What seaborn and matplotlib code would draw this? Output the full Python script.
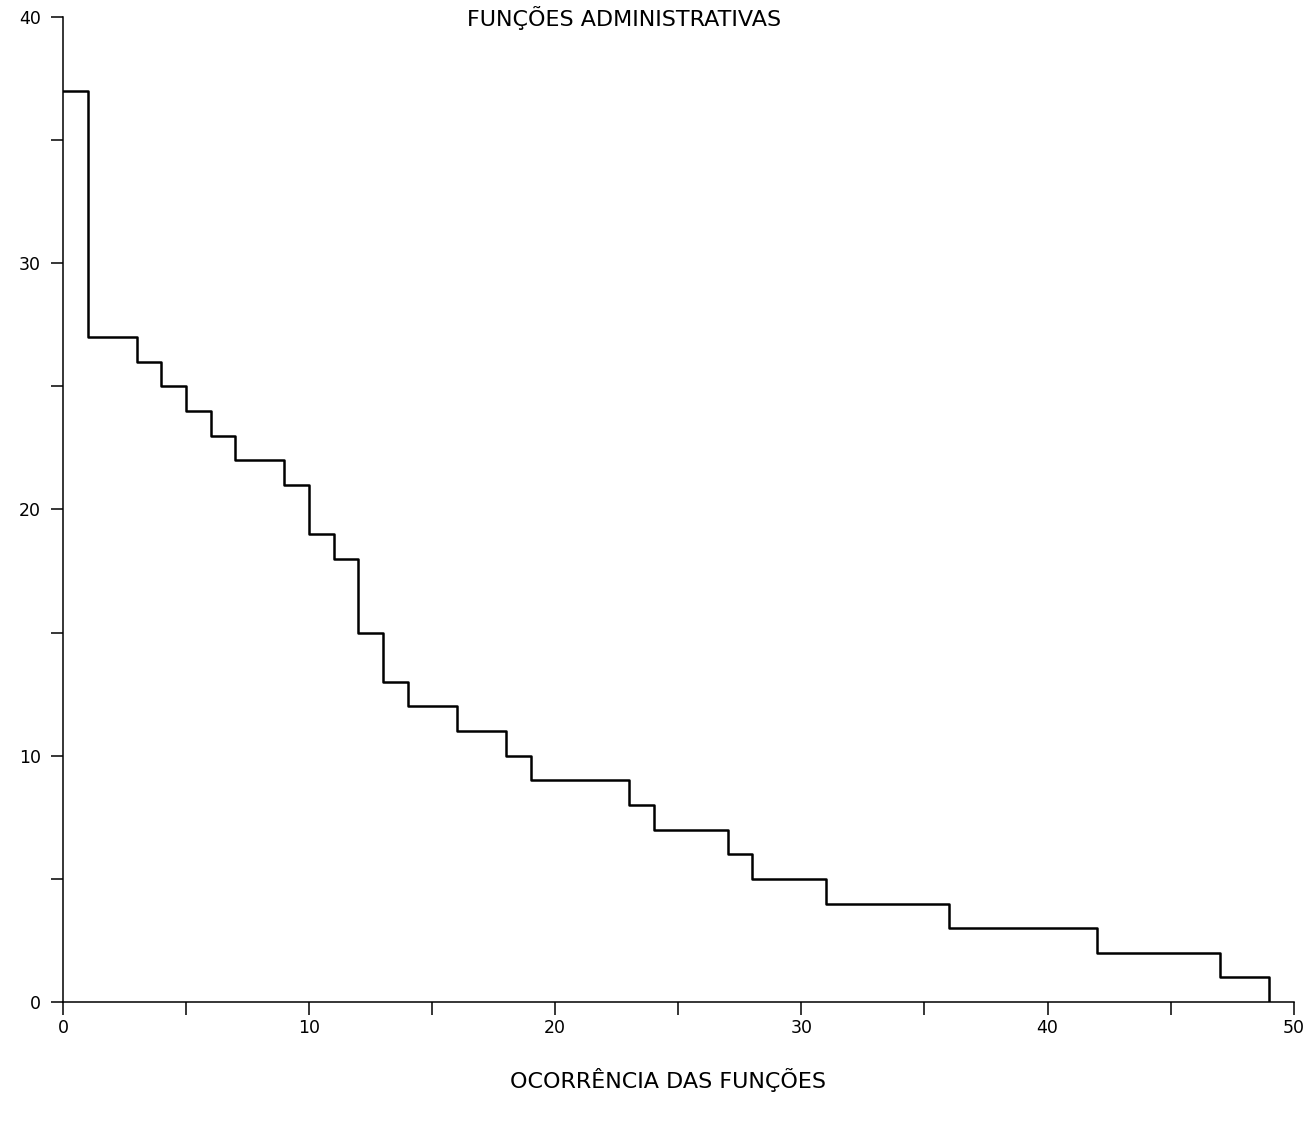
import matplotlib
matplotlib.use('Agg')
import matplotlib.pyplot as plt
import seaborn as sns
import pandas as pd

# step edges (x) and heights (y)
ocorrencia = [0, 1, 3, 4, 5, 6, 7, 9, 10, 11, 12, 13, 14, 16, 18, 19, 23, 24, 27, 28, 31, 36, 42, 47, 49]
funcoes = [37, 27, 26, 25, 24, 23, 22, 21, 19, 18, 15, 13, 12, 11, 10, 9, 8, 7, 6, 5, 4, 3, 2, 1, 0]

df = pd.DataFrame({'x': ocorrencia, 'y': funcoes})

sns.set_style('ticks')
plt.rcParams['font.family'] = ['DejaVu Sans']
plt.rcParams['text.color'] = 'black'

fig = plt.figure(figsize=(13.12, 11.24), dpi=100)
ax = fig.add_axes([0.048, 0.1085, 0.938, 0.8765])

sns.lineplot(data=df, x='x', y='y', drawstyle='steps-post', color='black',
             linewidth=1.8, ax=ax)

ax.set_xlim(0, 50)
ax.set_ylim(0, 40)
ax.set_xticks(range(0, 51, 10))
ax.set_xticks(range(5, 50, 10), minor=True)
ax.set_yticks(range(0, 41, 10))
ax.set_yticks(range(5, 40, 10), minor=True)
ax.tick_params(axis='both', which='both', direction='out', length=9, width=1.1,
               labelsize=12.5, color='black', labelcolor='black')
ax.tick_params(axis='x', pad=3)
ax.tick_params(axis='y', pad=7)

sns.despine(ax=ax)
for s in ['left', 'bottom']:
    ax.spines[s].set_linewidth(1.1)
    ax.spines[s].set_color('black')

ax.set_xlabel('')
ax.set_ylabel('')
fig.text(0.476, 0.984, 'FUNÇÕES ADMINISTRATIVAS', ha='center', va='center', fontsize=16)
fig.text(0.509, 0.039, 'OCORRÊNCIA DAS FUNÇÕES', ha='center', va='center', fontsize=16)

fig.savefig('out.png', dpi=100, facecolor='white')
